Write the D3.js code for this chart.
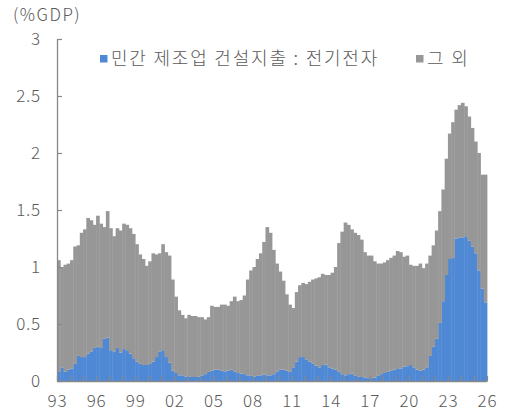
<!DOCTYPE html>
<html>
<head>
<meta charset="utf-8">
<script src="https://cdn.jsdelivr.net/npm/d3@7"></script>
<style>
  body { margin: 0; background: #fff; }
  text { font-family: "Noto Sans CJK KR", "Noto Sans", sans-serif; font-weight: 300; fill: #595959; }
</style>
</head>
<body>
<svg id="chart" width="505" height="414"></svg>
<script>
// quarterly data, 1993Q1 .. 2025Q4, %GDP
var firstYear = 1993;
var lastYear = 2025;

// 민간 제조업 건설지출 : 전기전자
var elecShare = [
    0.08, 0.12, 0.08, 0.10, 0.11, 0.15, 0.22, 0.21,
    0.21, 0.24, 0.26, 0.29, 0.30, 0.29, 0.37, 0.38,
    0.27, 0.26, 0.29, 0.25, 0.28, 0.27, 0.24, 0.20,
    0.17, 0.15, 0.14, 0.14, 0.15, 0.17, 0.21, 0.26,
    0.27, 0.21, 0.16, 0.09, 0.07, 0.05, 0.05, 0.04,
    0.04, 0.035, 0.035, 0.04, 0.05, 0.06, 0.08, 0.09,
    0.10, 0.10, 0.09, 0.085, 0.09, 0.10, 0.08, 0.07,
    0.065, 0.06, 0.05, 0.045, 0.04, 0.045, 0.05, 0.055,
    0.05, 0.05, 0.06, 0.08, 0.10, 0.10, 0.09, 0.08,
    0.12, 0.17, 0.21, 0.21, 0.19, 0.17, 0.155, 0.135,
    0.12, 0.14, 0.145, 0.12, 0.11, 0.10, 0.08, 0.06,
    0.05, 0.06, 0.065, 0.045, 0.04, 0.035, 0.03, 0.025,
    0.025, 0.03, 0.045, 0.06, 0.07, 0.08, 0.09, 0.10,
    0.105, 0.11, 0.125, 0.13, 0.14, 0.12, 0.10, 0.09,
    0.10, 0.12, 0.22, 0.30, 0.37, 0.51, 0.70, 0.93,
    1.07, 1.08, 1.25, 1.26, 1.26, 1.27, 1.23, 1.18,
    1.12, 0.97, 0.81, 0.69
];

// 민간 제조업 건설지출 전체 (전기전자 + 그 외)
var totalShare = [
    1.06, 1.00, 1.02, 1.03, 1.06, 1.18, 1.19, 1.30,
    1.33, 1.43, 1.41, 1.37, 1.45, 1.38, 1.35, 1.49,
    1.34, 1.27, 1.34, 1.32, 1.38, 1.37, 1.34, 1.29,
    1.20, 1.11, 1.07, 1.01, 1.05, 1.12, 1.11, 1.12,
    1.20, 1.13, 1.10, 0.89, 0.74, 0.62, 0.58, 0.55,
    0.58, 0.57, 0.57, 0.56, 0.56, 0.54, 0.56, 0.66,
    0.65, 0.65, 0.67, 0.67, 0.66, 0.70, 0.74, 0.70,
    0.71, 0.75, 0.89, 0.97, 1.00, 1.07, 1.12, 1.22,
    1.35, 1.30, 1.15, 1.03, 0.96, 0.88, 0.76, 0.67,
    0.64, 0.78, 0.84, 0.86, 0.85, 0.87, 0.89, 0.90,
    0.91, 0.94, 0.93, 0.93, 0.95, 1.00, 1.21, 1.31,
    1.39, 1.37, 1.33, 1.30, 1.28, 1.24, 1.13, 1.10,
    1.10, 1.05, 1.03, 1.03, 1.04, 1.06, 1.08, 1.10,
    1.14, 1.13, 1.09, 1.10, 1.02, 1.01, 1.01, 1.03,
    0.99, 1.03, 1.10, 1.19, 1.32, 1.49, 1.68, 1.95,
    2.17, 2.27, 2.38, 2.42, 2.44, 2.41, 2.32, 2.22,
    2.10, 2.00, 1.81, 1.81
];

var seriesNames = ["민간 제조업 건설지출 : 전기전자", "그 외"];
var seriesColors = ["#4f88d4", "#979797"];
var yTicks = [0, 0.5, 1, 1.5, 2, 2.5, 3];
var yTickLabels = ["0", "0.5", "1", "1.5", "2", "2.5", "3"];
var xLabelYears = [1993, 1996, 1999, 2002, 2005, 2008, 2011, 2014, 2017, 2020, 2023, 2026];
var xTickLabels = ["93", "96", "99", "02", "05", "08", "11", "14", "17", "20", "23", "26"];

var quarters = [];
d3.range(firstYear, lastYear + 1).forEach(function(yr){
    [1, 2, 3, 4].forEach(function(q){ quarters.push(yr + "Q" + q); });
});

var rows = quarters.map(function(q, i){
    return { q: q, elec: elecShare[i], other: totalShare[i] - elecShare[i] };
});

var svg = d3.select("#chart");
var plot = { left: 57, right: 487, top: 39, bottom: 381 };

var x = d3.scaleBand().domain(quarters).range([plot.left, plot.right]).padding(0);
var xYear = d3.scaleLinear().domain([firstYear, lastYear + 1]).range([plot.left, plot.right]);
var y = d3.scaleLinear().domain([0, 3]).range([plot.bottom, plot.top]);

var layers = d3.stack().keys(["elec", "other"])(rows);

svg.append("g")
    .selectAll("g")
    .data(layers)
    .join("g")
    .attr("fill", function(d, i){ return seriesColors[i]; })
    .selectAll("rect")
    .data(function(d){ return d; })
    .join("rect")
    .attr("x", function(d){ return x(d.data.q); })
    .attr("width", x.bandwidth() + 0.4)
    .attr("y", function(d){ return y(d[1]); })
    .attr("height", function(d){ return y(d[0]) - y(d[1]); });

//Y axis, ticks point inward
var yAxis = svg.append("g")
    .attr("transform", "translate(" + plot.left + ",0)")
    .call(d3.axisLeft(y)
        .tickValues(yTicks)
        .tickFormat(function(d, i){ return yTickLabels[i]; })
        .tickSizeInner(-5)
        .tickSizeOuter(0)
        .tickPadding(16));

//X axis, a tick every year and a label every 3 years
var xAxis = svg.append("g")
    .attr("transform", "translate(0," + plot.bottom + ")")
    .call(d3.axisBottom(xYear)
        .tickValues(d3.range(firstYear, lastYear + 2))
        .tickFormat(function(d){
            var k = xLabelYears.indexOf(d);
            return k >= 0 ? xTickLabels[k] : "";
        })
        .tickSizeInner(-5)
        .tickSizeOuter(0)
        .tickPadding(14));

[yAxis, xAxis].forEach(function(ax){
    ax.select(".domain").attr("stroke", "#888").attr("stroke-width", 1.3);
    ax.selectAll(".tick line").attr("stroke", "#888").attr("stroke-width", 1.2);
    ax.selectAll(".tick text")
        .attr("font-family", null)
        .style("font-size", "17px")
        .style("letter-spacing", "0.8px")
        .attr("fill", "#595959");
});

svg.append("text")
    .attr("x", 13)
    .attr("y", 21)
    .style("font-size", "17px")
    .style("letter-spacing", "1.5px")
    .text("(%GDP)");

//Legend
var legendX = [100, 416];
var legend = svg.append("g")
    .selectAll("g")
    .data(seriesNames)
    .join("g")
    .attr("transform", function(d, i){ return "translate(" + legendX[i] + ",55)"; });

legend.append("rect")
    .attr("width", 7.5)
    .attr("height", 7.5)
    .attr("fill", function(d, i){ return seriesColors[i]; });

legend.append("text")
    .attr("x", 11)
    .attr("y", 10)
    .style("font-size", "18px")
    .style("letter-spacing", "1.8px")
    .text(function(d){ return d; });
</script>
</body>
</html>
